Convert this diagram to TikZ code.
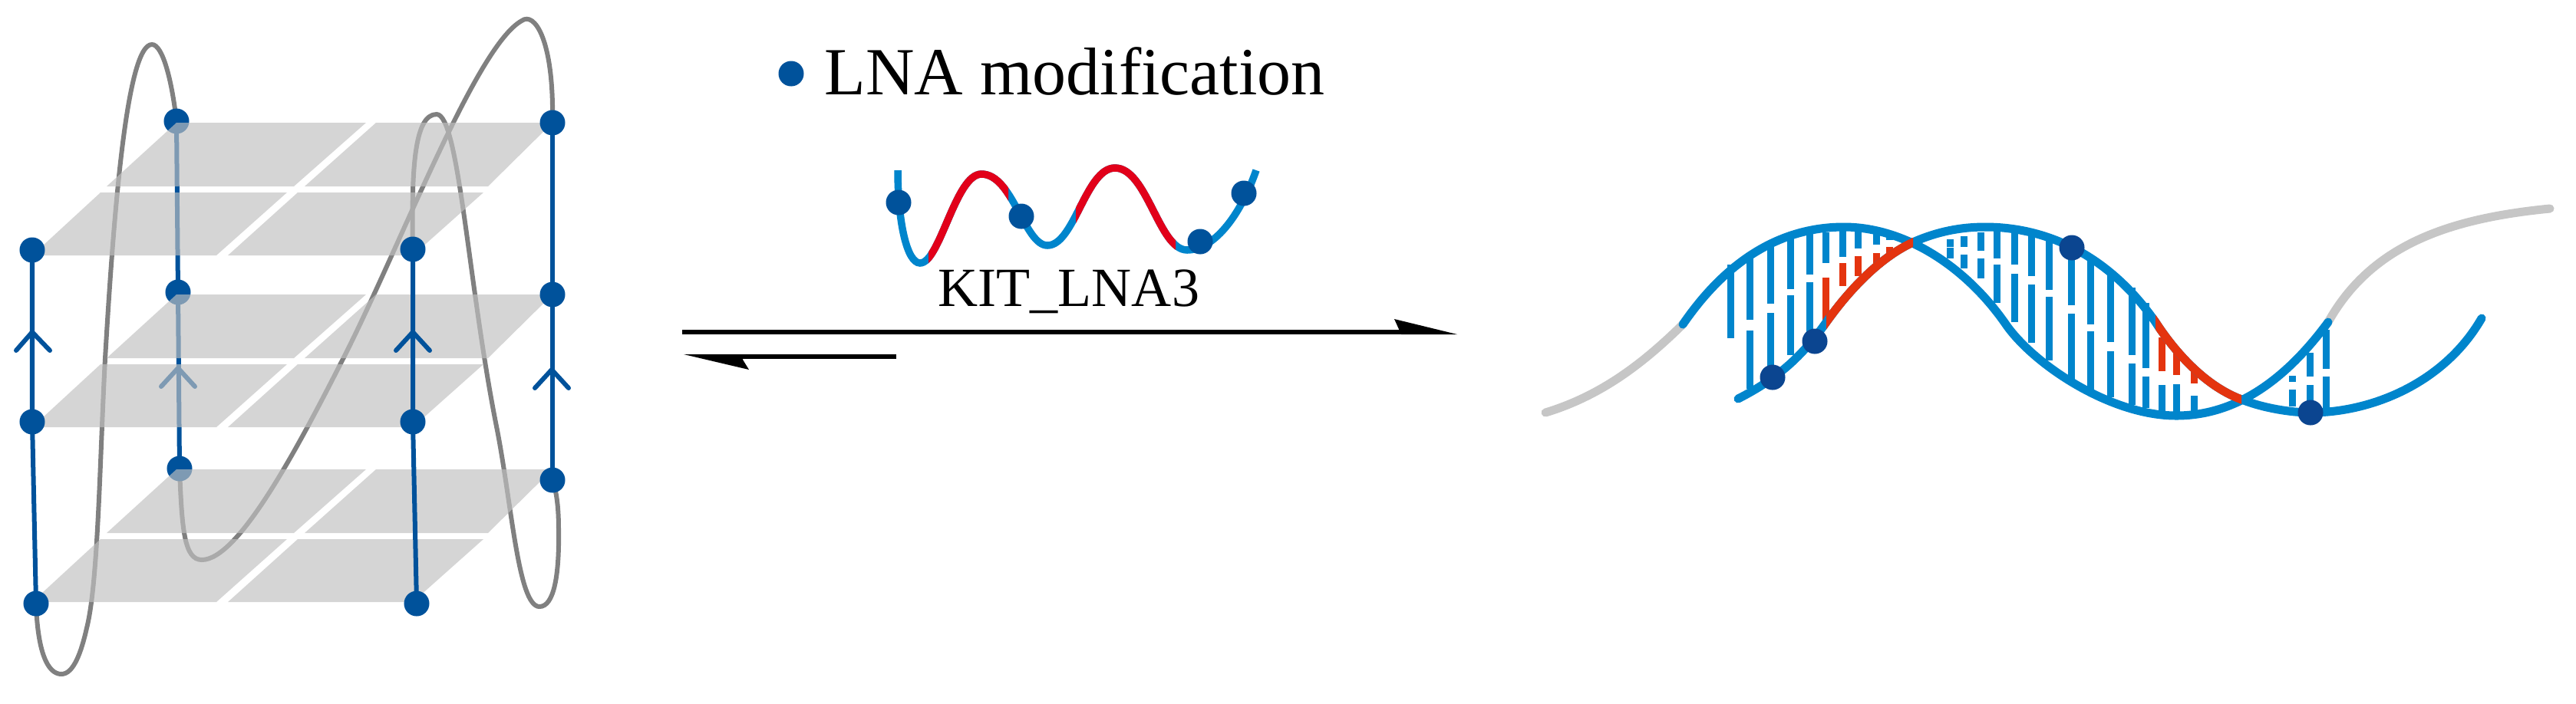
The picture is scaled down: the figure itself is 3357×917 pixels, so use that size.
\documentclass[tikz,border=0pt]{standalone}
\usepackage{fontspec}
\setmainfont{Liberation Serif}
\usetikzlibrary{positioning}
\definecolor{lnablue}{HTML}{00529B}
\definecolor{loopgray}{HTML}{808080}
\definecolor{platefill}{HTML}{C0C0C0}
\definecolor{helixblue}{HTML}{0085CC}
\definecolor{helixred}{HTML}{E4340F}
\definecolor{oligored}{HTML}{E2001A}
\definecolor{tailgray}{HTML}{C6C6C6}
\definecolor{helixdot}{HTML}{0B4590}
\tikzset{%
	lnadot/.style   = {circle, fill=lnablue, inner sep=0pt, minimum size=0.33cm},
	helixnode/.style= {circle, fill=helixdot, inner sep=0pt, minimum size=0.33cm},
	loopline/.style = {draw=loopgray, line width=0.06cm},
	chain/.style    = {draw=lnablue, line width=0.06cm},
	chevron/.style  = {draw=lnablue, line width=0.06cm},
	plate/.style    = {fill=platefill, fill opacity=0.66},
	strand/.style   = {draw=helixblue, line width=0.11cm, line cap=round},
	redstrand/.style= {draw=helixred, line width=0.11cm},
	tail/.style     = {draw=tailgray, line width=0.11cm, line cap=round},
	rung/.style     = {draw=helixblue, line width=0.09cm},
	redrung/.style  = {draw=helixred, line width=0.09cm},
	oligo/.style    = {draw=helixblue, line width=0.095cm},
	redoligo/.style = {draw=oligored, line width=0.095cm},
	reaction/.style = {draw=black, line width=0.065cm},
}
\newcommand{\oligopath}{(1170,222) .. controls (1170,290) and (1182,343) .. (1199,343) .. controls (1225,343) and (1245,227) .. (1279,227) .. controls (1320,227) and (1335,320) .. (1365,320) .. controls (1400,320) and (1415,219) .. (1453,219) .. controls (1495,219) and (1510,326) .. (1547,326) .. controls (1580,326) and (1615,285) .. (1637,222)}
\newcommand{\lowerpath}{(2265,520) .. controls (2310,497) and (2345,470) .. (2380,420) .. controls (2410,378) and (2450,335) .. (2495,315) .. controls (2525,302) and (2555,296) .. (2587,296) .. controls (2670,296) and (2750,335) .. (2809,420) .. controls (2835,460) and (2875,505) .. (2924,522) .. controls (2950,532) and (2985,538) .. (3011,538) .. controls (3090,538) and (3185,500) .. (3234,415)}
\begin{document}
\begin{tikzpicture}[x=0.01cm,y=-0.01cm]
	\useasboundingbox (0,0) rectangle (3357,917);
	
	% quadruplex corners
	\coordinate (a1) at (42,326);
	\coordinate (a2) at (42,550);
	\coordinate (a3) at (47,787);
	\coordinate (b1) at (230,158);
	\coordinate (b2) at (232,381);
	\coordinate (b3) at (234,611);
	\coordinate (c1) at (538,325);
	\coordinate (c2) at (538,550);
	\coordinate (c3) at (543,787);
	\coordinate (d1) at (720,160);
	\coordinate (d2) at (720,384);
	\coordinate (d3) at (720,626);
	
	% loops
	\draw[loopline] (b1) .. controls (224,105) and (212,58) .. (198,58) .. controls (165,58) and (148,280) .. (137,468) .. controls (130,600) and (128,760) .. (113,819) .. controls (106,850) and (96,879) .. (80,879) .. controls (62,879) and (49,850) .. (a3);
	\draw[loopline] (b3) .. controls (237,690) and (240,730) .. (263,730) .. controls (310,730) and (385,590) .. (447,468) .. controls (520,325) and (620,60) .. (680,27) .. controls (696,15) and (722,50) .. (d1);
	\draw[loopline] (c1) .. controls (536,220) and (540,149) .. (569,149) .. controls (598,149) and (610,370) .. (647,556) .. controls (667,656) and (675,791) .. (703,791) .. controls (722,791) and (729,750) .. (728,690) .. controls (728,660) and (725,640) .. (d3);
	
	% strand behind the planes
	\draw[chain] (b3) -- (b2) -- (b1);
	\draw[chevron,line cap=round] (210,504) -- (232,480) -- (254,504);
	\node[lnadot] (dotb1) at (b1) {};
	\node[lnadot] (dotb2) at (b2) {};
	\node[lnadot] (dotb3) at (b3) {};
	
	% planes
	\foreach \dy in {0,224,452}{
		\begin{scope}[shift={(0,\dy)}]
		\fill[plate] (230,160) -- (477,160) -- (383,243) -- (139,243) -- cycle;
		\fill[plate] (490,160) -- (720,160) -- (636,243) -- (397,243) -- cycle;
		\fill[plate] (131,251) -- (374,251) -- (282,333) -- (42,333) -- cycle;
		\fill[plate] (388,251) -- (630,251) -- (538,333) -- (297,333) -- cycle;
		\end{scope}
	}
	
	% strands in front
	\draw[chain] (a3) -- (a2) -- (a1);
	\draw[chain] (c3) -- (c2) -- (c1);
	\draw[chain] (d3) -- (d2) -- (d1);
	\draw[chevron,line cap=round] (21,457) -- (42,433) -- (65,457);
	\draw[chevron,line cap=round] (516,457) -- (538,433) -- (560,457);
	\draw[chevron,line cap=round] (697,506) -- (719,482) -- (741,506);
	\foreach \n in {a1,a2,a3,c1,c2,c3,d1,d2,d3}{
		\node[lnadot] (dot\n) at (\n) {};
	}
	
	% legend
	\node[lnadot] (legenddot) at (1031,96) {};
	\node[anchor=base west,inner sep=0pt,font=\fontsize{25}{30}\selectfont] (legend) at (1074,123) {LNA modification};
	
	% short oligo
	\draw[oligo] \oligopath;
	\begin{scope}
	\clip (1210,200) rectangle (1314,360) (1402,200) rectangle (1532,360);
	\draw[redoligo] \oligopath;
	\end{scope}
	\node[lnadot] (dotol1) at (1171,264) {};
	\node[lnadot] (dotol2) at (1331,282) {};
	\node[lnadot] (dotol3) at (1564,315) {};
	\node[lnadot] (dotol4) at (1621,252) {};
	\node[anchor=base west,inner sep=0pt,font=\fontsize{20.5}{24}\selectfont] (oligoname) at (1222,399) {KIT\_LNA3};
	
	% reaction arrows
	\coordinate (fwdstart) at (889,433);
	\coordinate (fwdend) at (1826,433);
	\coordinate (backstart) at (1168,465);
	\coordinate (backend) at (968,465);
	\draw[reaction] (fwdstart) -- (fwdend);
	\fill (1817,416) -- (1899,436) -- (1826,436) -- cycle;
	\draw[reaction] (backstart) -- (backend);
	\fill (891,462) -- (968,462) -- (968,469) -- (976,482) -- cycle;
	
	% base pairs
	\foreach \x/\ya/\yb in {2255/345/441, 2280/330/417, 2280/431/507, 2307/320/396, 2307/408/483, 2333/310/377, 2333/385/463, 2358/305/358, 2358/368/437, 2379/303/343, 2401/300/335, 2421/300/324, 2445/302/319, 2462/306/313,
		2541/312/322, 2541/323/337, 2559/308/322, 2559/332/350, 2581/303/327, 2581/337/363, 2602/302/337, 2602/345/395, 2625/302/345, 2625/357/420, 2647/305/360, 2647/371/447, 2670/310/378, 2670/387/470, 2699/323/398, 2699/409/497, 2724/335/423, 2724/432/508, 2750/352/446, 2750/458/518, 2778/375/463, 2778/474/528, 2796/395/480, 2796/491/532, 2817/502/536, 2836/501/540, 2859/516/536,
		2987/508/530, 3010/502/530, 3031/430/481, 3031/491/532, 2987/490/498, 3010/460/491}{
		\draw[rung] (\x,\ya) -- (\x,\yb);
	}
	\foreach \x/\ya/\yb in {2379/362/417, 2401/343/373, 2421/334/360, 2445/330/343, 2462/322/330, 2817/440/484, 2836/460/489, 2859/483/500}{
		\draw[redrung] (\x,\ya) -- (\x,\yb);
	}
	
	% grey tails
	\coordinate (h1) at (2193,423);
	\coordinate (h2) at (3034,420);
	\draw[tail] (2014,538) .. controls (2090,515) and (2145,470) .. (h1);
	\draw[tail] (h2) .. controls (3090,320) and (3190,285) .. (3323,272);
	
	% duplex
	\draw[strand] (h1) .. controls (2250,340) and (2320,296) .. (2403,296) .. controls (2480,296) and (2560,345) .. (2614,423) .. controls (2650,475) and (2750,542) .. (2836,542) .. controls (2910,542) and (2975,500) .. (h2);
	\draw[strand] \lowerpath;
	\begin{scope}
	\clip (2380,290) rectangle (2493,430) (2809,410) rectangle (2921,540);
	\draw[redstrand] \lowerpath;
	\end{scope}
	\node[helixnode] (doth1) at (2310,492) {};
	\node[helixnode] (doth2) at (2365,445) {};
	\node[helixnode] (doth3) at (2700,323) {};
	\node[helixnode] (doth4) at (3011,538) {};
	
\end{tikzpicture}
\end{document}
